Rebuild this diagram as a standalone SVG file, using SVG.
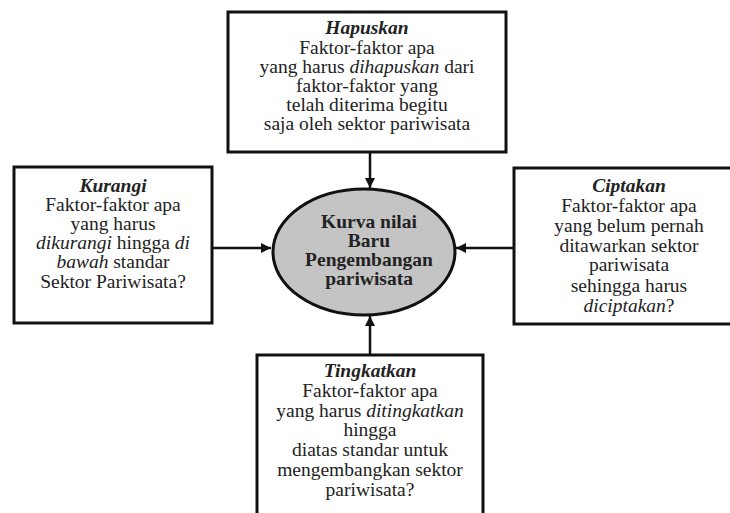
<svg xmlns="http://www.w3.org/2000/svg" width="730" height="513" viewBox="0 0 730 513">
<style>
.box{fill:#fff;stroke:#111;stroke-width:3}
.t{font-family:'Liberation Serif','Times New Roman',serif;font-size:19.5px;fill:#222;text-anchor:middle}
.h{font-weight:bold;font-style:italic}
.i{font-style:italic}
.b{font-weight:bold}
.con{stroke:#111;stroke-width:2.5;fill:none}
</style>
<defs>
<marker id="ah" viewBox="0 0 10 10" refX="10" refY="5" markerWidth="4" markerHeight="4" orient="auto" markerUnits="strokeWidth">
<path d="M0,0 L10,5 L0,10 z" fill="#111"/>
</marker>
</defs>
<rect width="730" height="513" fill="#fff"/>
<g id="connectors">
<line class="con" x1="370" y1="153" x2="370" y2="188" marker-end="url(#ah)"/>
<line class="con" x1="212" y1="248" x2="271" y2="248" marker-end="url(#ah)"/>
<line class="con" x1="514" y1="248" x2="456" y2="248" marker-end="url(#ah)"/>
<line class="con" x1="370" y1="355" x2="370" y2="316" marker-end="url(#ah)"/>
</g>
<g id="hapuskan">
<rect class="box" x="228" y="12" width="278" height="140"/>
<text class="t"><tspan x="367" y="34" class="h">Hapuskan</tspan><tspan x="367" y="54">Faktor-faktor apa</tspan><tspan x="367" y="73">yang harus <tspan class="i">dihapuskan</tspan> dari</tspan><tspan x="367" y="92">faktor-faktor yang</tspan><tspan x="367" y="111">telah diterima begitu</tspan><tspan x="367" y="130">saja oleh sektor pariwisata</tspan></text>
</g>
<g id="kurangi">
<rect class="box" x="14" y="167" width="198" height="156"/>
<text class="t"><tspan x="113" y="192" class="h">Kurangi</tspan><tspan x="113" y="211">Faktor-faktor apa</tspan><tspan x="113" y="230">yang harus</tspan><tspan x="113" y="249"><tspan class="i">dikurangi</tspan> hingga <tspan class="i">di</tspan></tspan><tspan x="113" y="268"><tspan class="i">bawah</tspan> standar</tspan><tspan x="113" y="288">Sektor Pariwisata?</tspan></text>
</g>
<g id="ciptakan">
<rect class="box" x="514" y="168" width="232" height="156"/>
<text class="t"><tspan x="629" y="192" class="h">Ciptakan</tspan><tspan x="629" y="212">Faktor-faktor apa</tspan><tspan x="629" y="232">yang belum pernah</tspan><tspan x="629" y="252">ditawarkan sektor</tspan><tspan x="629" y="271">pariwisata</tspan><tspan x="629" y="292">sehingga harus</tspan><tspan x="629" y="312"><tspan class="i">diciptakan</tspan>?</tspan></text>
</g>
<g id="tingkatkan">
<rect class="box" x="257" y="355" width="226" height="170"/>
<text class="t"><tspan x="370" y="377" class="h">Tingkatkan</tspan><tspan x="370" y="397">Faktor-faktor apa</tspan><tspan x="370" y="417">yang harus <tspan class="i">ditingkatkan</tspan></tspan><tspan x="370" y="436">hingga</tspan><tspan x="370" y="456">diatas standar untuk</tspan><tspan x="370" y="476">mengembangkan sektor</tspan><tspan x="370" y="496">pariwisata?</tspan></text>
</g>
<g id="kurva">
<ellipse cx="364" cy="252" rx="91" ry="63" fill="#c4c4c4" stroke="#111" stroke-width="3"/>
<text class="t b"><tspan x="369" y="228">Kurva nilai</tspan><tspan x="369" y="247">Baru</tspan><tspan x="369" y="266">Pengembangan</tspan><tspan x="369" y="285">pariwisata</tspan></text>
</g>
</svg>
